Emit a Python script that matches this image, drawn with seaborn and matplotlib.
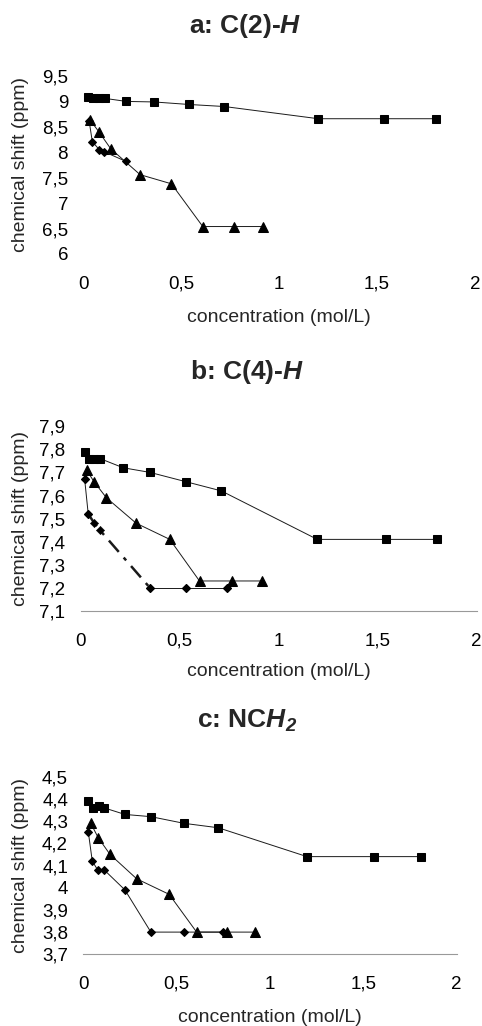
import numpy as np
import pandas as pd
import matplotlib
matplotlib.use("Agg")
import matplotlib.pyplot as plt
import seaborn as sns

# ---- data ----
x_ticks = [0, 0.5, 1, 1.5, 2]
x_ticklabels = ["0", "0,5", "1", "1,5", "2"]

# a: C(2)-H
a_sq_x = [0.025, 0.05, 0.08, 0.11, 0.22, 0.36, 0.54, 0.72, 1.20, 1.535, 1.80]
a_sq_y = [9.08, 9.06, 9.06, 9.06, 9.00, 8.99, 8.94, 8.90, 8.66, 8.66, 8.66]
a_tri_x = [0.034, 0.08, 0.14, 0.29, 0.45, 0.61, 0.77, 0.92]
a_tri_y = [8.64, 8.40, 8.07, 7.56, 7.38, 6.54, 6.54, 6.54]
a_dia_x = [0.03, 0.046, 0.082, 0.107, 0.218]
a_dia_y = [8.61, 8.21, 8.05, 8.01, 7.82]
a_yticks = [6, 6.5, 7, 7.5, 8, 8.5, 9, 9.5]
a_yticklabels = ["6", "6,5", "7", "7,5", "8", "8,5", "9", "9,5"]

# b: C(4)-H
b_sq_x = [0.02, 0.043, 0.069, 0.097, 0.215, 0.35, 0.53, 0.71, 1.195, 1.54, 1.80]
b_sq_y = [7.79, 7.76, 7.76, 7.76, 7.72, 7.70, 7.66, 7.62, 7.41, 7.41, 7.41]
b_tri_x = [0.03, 0.067, 0.13, 0.28, 0.45, 0.60, 0.763, 0.914]
b_tri_y = [7.71, 7.66, 7.59, 7.48, 7.41, 7.23, 7.23, 7.23]
b_dia_x = [0.02, 0.038, 0.069, 0.097, 0.35, 0.53, 0.74]
b_dia_y = [7.67, 7.52, 7.48, 7.45, 7.20, 7.20, 7.20]
b_yticks = [7.1, 7.2, 7.3, 7.4, 7.5, 7.6, 7.7, 7.8, 7.9]
b_yticklabels = ["7,1", "7,2", "7,3", "7,4", "7,5", "7,6", "7,7", "7,8", "7,9"]

# c: NCH2
c_sq_x = [0.027, 0.053, 0.084, 0.11, 0.223, 0.362, 0.539, 0.723, 1.198, 1.559, 1.807]
c_sq_y = [4.39, 4.36, 4.37, 4.36, 4.33, 4.32, 4.29, 4.27, 4.14, 4.14, 4.14]
c_tri_x = [0.04, 0.08, 0.143, 0.286, 0.46, 0.607, 0.768, 0.92]
c_tri_y = [4.29, 4.225, 4.15, 4.04, 3.97, 3.80, 3.80, 3.80]
c_dia_x = [0.027, 0.048, 0.077, 0.112, 0.223, 0.362, 0.539, 0.747]
c_dia_y = [4.25, 4.12, 4.08, 4.08, 3.99, 3.80, 3.80, 3.80]
c_yticks = [3.7, 3.8, 3.9, 4.0, 4.1, 4.2, 4.3, 4.4, 4.5]
c_yticklabels = ["3,7", "3,8", "3,9", "4", "4,1", "4,2", "4,3", "4,4", "4,5"]

sns.set_style("white")
plt.rcParams['font.family'] = ['Liberation Sans', 'DejaVu Sans']
plt.rcParams['mathtext.fontset'] = 'custom'
plt.rcParams['mathtext.bfit'] = 'Liberation Sans:italic:bold'
plt.rcParams['mathtext.it'] = 'Liberation Sans:italic'
plt.rcParams['mathtext.bf'] = 'Liberation Sans:bold'
plt.rcParams['mathtext.rm'] = 'Liberation Sans'

W, H = 482, 1026
fig = plt.figure(figsize=(W / 100, H / 100), dpi=100)


def px_axes(l, t, r, b):
    return fig.add_axes([l / W, 1 - b / H, (r - l) / W, (b - t) / H])


def draw_line(ax, x, y, marker, ms, ls='-', lw=0.7, show_markers=True):
    df = pd.DataFrame({'x': x, 'y': y})
    sns.lineplot(data=df, x='x', y='y', ax=ax, color='#1a1a1a', lw=lw,
                 linestyle=ls, sort=False, estimator=None,
                 marker=marker if show_markers else None,
                 markersize=ms, markeredgecolor='black',
                 markerfacecolor='black', zorder=3)


def style_axes(ax, ylim, yticks, yticklabels, bottom_line):
    ax.set_xlim(0, 2)
    ax.set_ylim(*ylim)
    ax.set_xticks(x_ticks)
    ax.set_xticklabels(x_ticklabels)
    ax.set_yticks(yticks)
    ax.set_yticklabels(yticklabels)
    ax.tick_params(axis='x', length=0, pad=15.5, labelsize=13.5, colors='black')
    ax.tick_params(axis='y', length=3, width=0.8, pad=8, labelsize=13.5,
                   color='#c8c8c8', labelcolor='black', direction='out')
    for s in ['top', 'right', 'left']:
        ax.spines[s].set_visible(False)
    if bottom_line:
        ax.spines['bottom'].set_linestyle((0, (1, 1)))
        ax.spines['bottom'].set_color('#999999')
        ax.spines['bottom'].set_linewidth(0.8)
    else:
        ax.spines['bottom'].set_visible(False)
    ax.set_xlabel("")
    ax.set_ylabel("")


def labels(box, xlab_y):
    l, t, r, b = box
    fig.text(21 / W, 1 - ((t + b) / 2) / H, "chemical shift (ppm)",
             rotation=90, ha='center', va='center', fontsize=14)
    fig.text(((l + r) / 2) / W, 1 - xlab_y / H, "concentration (mol/L)",
             ha='center', va='center', fontsize=14)


# ---- panel a ----
box_a = (83.3, 76, 475, 254)
ax = px_axes(*box_a)
draw_line(ax, a_sq_x, a_sq_y, 's', 6)
draw_line(ax, a_tri_x, a_tri_y, '^', 7)
draw_line(ax, a_dia_x, a_dia_y, 'D', 4.3)
style_axes(ax, (6, 9.5), a_yticks, a_yticklabels, bottom_line=False)
labels(box_a, 317)
fig.text(245 / W, 1 - 26 / H, r"a: C(2)-$\mathbfit{H}$", ha='center',
         va='center', fontsize=19, fontweight='bold')

# ---- panel b ----
box_b = (80.7, 426.2, 476.7, 611)
ax = px_axes(*box_b)
draw_line(ax, b_sq_x, b_sq_y, 's', 6)
draw_line(ax, b_tri_x, b_tri_y, '^', 7)
draw_line(ax, b_dia_x[:2], b_dia_y[:2], 'D', 4.3)
draw_line(ax, b_dia_x[1:5], b_dia_y[1:5], 'D', 4.3, ls=(0, (6, 3, 1.5, 3)),
          lw=1.8, show_markers=False)
draw_line(ax, b_dia_x[4:], b_dia_y[4:], 'D', 4.3)
sns.scatterplot(x=b_dia_x, y=b_dia_y, ax=ax, marker='D', s=18,
                color='black', edgecolor='black', zorder=4)
style_axes(ax, (7.1, 7.9), b_yticks, b_yticklabels, bottom_line=True)
labels(box_b, 672)
fig.text(247 / W, 1 - 372 / H, r"b: C(4)-$\mathbfit{H}$", ha='center',
         va='center', fontsize=19, fontweight='bold')

# ---- panel c ----
box_c = (83.3, 776.7, 456.7, 954.3)
ax = px_axes(*box_c)
draw_line(ax, c_sq_x, c_sq_y, 's', 6)
draw_line(ax, c_tri_x, c_tri_y, '^', 7)
draw_line(ax, c_dia_x, c_dia_y, 'D', 4.3)
style_axes(ax, (3.7, 4.5), c_yticks, c_yticklabels, bottom_line=True)
labels(box_c, 1017)
fig.text(247 / W, 1 - 721 / H, r"c: NC$\mathbfit{H}_\mathbfit{2}$", ha='center',
         va='center', fontsize=19, fontweight='bold')

fig.savefig("out.png", dpi=100)
